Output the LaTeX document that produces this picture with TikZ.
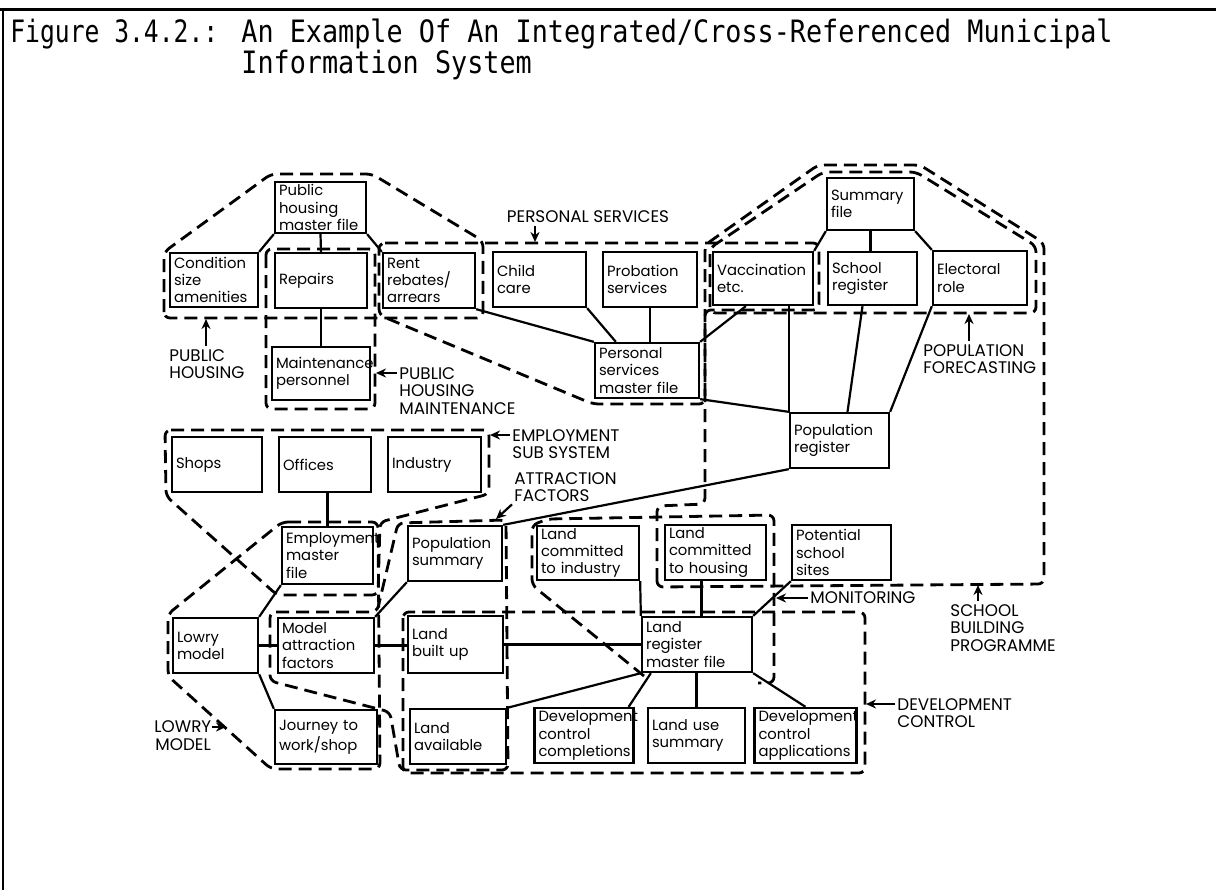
\documentclass[tikz,border=0pt]{standalone}
\usepackage{fontspec}
\usepackage{graphicx}
\usetikzlibrary{arrows.meta}
\newfontfamily\lblfont{Poppins}
\newfontfamily\capfont{DejaVu Sans Mono}

\tikzset{
  box/.style={draw, line width=1.15pt, inner xsep=2pt, inner ysep=0pt, align=left,
    font=\lblfont\fontsize{7.4}{8.6}\selectfont},
  bx/.style n args={3}{minimum width=#1pt, minimum height=#2pt, text width=#3pt},
  grp/.style={draw, line width=1.4pt, dash pattern=on 6.5pt off 3.5pt, rounded corners=3pt},
  link/.style={draw, line width=1.1pt},
  tag/.style={font=\lblfont\fontsize{8.4}{8.8}\selectfont, align=left, inner sep=0pt},
  tagarrow/.style={line width=1.1pt, -{Stealth[length=5pt,width=4.5pt]}},
  figtitle/.style={font=\capfont\fontsize{13.4}{15}\selectfont, inner sep=0pt},
}

\begin{document}
\begin{tikzpicture}[x=0.5pt,y=-0.5pt]
\useasboundingbox (0,0) rectangle (1216,890);
\fill[white] (0,0) rectangle (1216,890);

% page frame
\draw[line width=1.5pt] (0,9) -- (1216,9);
\draw[line width=1pt] (3,9) -- (3,890);

% caption
\node[figtitle, anchor=base west] (fignum) at (10,42) {\scalebox{0.92}[1.15]{Figure 3.4.2.:}};
\node[figtitle, anchor=base west] (figline1) at (241,42) {\scalebox{1}[1.15]{An Example Of An Integrated/Cross-Referenced Municipal}};
\node[figtitle, anchor=base west] (figline2) at (241,73) {\scalebox{1}[1.15]{Information System}};

% ---------- record boxes ----------
\node[box, bx={45.5}{25.5}{41.5}] (phm) at (320.5,207.5) {Public\\housing\\master~file};
\node[box, bx={44}{27}{40}] (cond) at (214,280) {Condition\\size\\amenities};
\node[box, bx={46}{27.5}{42}] (repairs) at (321,280.5) {Repairs};
\node[box, bx={46}{27.5}{42}] (rent) at (429,280.5) {Rent\\rebates/\\arrears};
\node[box, bx={46.5}{27.5}{42.5}] (child) at (539.5,279.5) {Child\\care};
\node[box, bx={47}{27.5}{43}] (prob) at (650,279.5) {Probation\\services};
\node[box, bx={50}{26.5}{46}] (vacc) at (763,278.5) {Vaccination\\etc.};
\node[box, bx={44.5}{26.5}{40.5}] (school) at (872.5,278.5) {School\\register};
\node[box, bx={47}{27}{43}] (elect) at (980,278) {Electoral\\role};
\node[box, bx={43.5}{26}{39.5}] (summ) at (870.5,204) {Summary\\file};
\node[box, bx={49}{26.5}{45}] (maint) at (321,373.5) {Maintenance\\personnel};
\node[box, bx={52}{27.5}{48}] (psm) at (647,370.5) {Personal\\services\\master~file};
\node[box, bx={49.5}{27.5}{45.5}] (popreg) at (839.5,440.5) {Population\\register};
\node[box, bx={45}{27.5}{41}] (shops) at (217,464.5) {Shops};
\node[box, bx={46}{27.5}{42}] (offices) at (325,464.5) {Offices};
\node[box, bx={46.5}{27.5}{42.5}] (industry) at (434.5,464.5) {Industry};
\node[box, bx={45.5}{28.5}{41.5}] (empmf) at (327.5,555.5) {Employment\\master\\file};
\node[box, bx={47}{27.5}{43}] (popsum) at (455,553.5) {Population\\summary};
\node[box, bx={51}{27}{47}] (lcind) at (588,553) {Land\\committed\\to~industry};
\node[box, bx={50.5}{27.5}{46.5}] (lchous) at (715.5,552.5) {Land\\committed\\to~housing};
\node[box, bx={49.5}{27.5}{45.5}] (pss) at (841.5,552.5) {Potential\\school\\sites};
\node[box, bx={42.5}{27.5}{38.5}] (lowry) at (215.5,645.5) {Lowry\\model};
\node[box, bx={48}{27.5}{44}] (maf) at (326,645.5) {Model\\attraction\\factors};
\node[box, bx={47.5}{28.5}{43.5}] (lbu) at (455.5,644.5) {Land\\built~up};
\node[box, bx={55}{27.5}{51}] (lrm) at (697,644.5) {Land\\register\\master~file};
\node[box, bx={51}{27}{47}] (journey) at (326,737) {Journey~to\\work/shop};
\node[box, bx={48}{27.5}{44}] (lavail) at (458,736.5) {Land\\available};
\node[box, bx={49.5}{27.5}{45.5}] (dcc) at (584,735.5) {Development\\control\\completions};
\node[box, bx={48.5}{27.5}{44.5}] (lus) at (696.5,735.5) {Land~use\\summary};
\node[box, bx={51}{27.5}{47}] (dca) at (805.5,735.5) {Development\\control\\applications};

% ---------- links between records ----------
\draw[link] (phm.south west) -- (cond.north east);
\draw[link] (phm.south) -- (repairs.north);
\draw[link] (phm.south east) -- (rent.north west);
\draw[link] (repairs.south) -- (maint.north);
\draw[link] (summ.south west) -- (vacc.north east);
\draw[link] (summ.south) -- (summ.south |- school.north);
\draw[link] (summ.south east) -- (elect.north west);
\draw[link] (rent.south east) -- (psm.north west);
\draw[link] (child.south east) -- ([xshift=11pt]psm.north west);
\draw[link] (prob.south) -- (prob.south |- psm.north);
\draw[link] ([xshift=17pt]vacc.south west) -- (psm.north east);
\draw[link] ([xshift=38.5pt]vacc.south west) -- (popreg.north west);
\draw[link] ([xshift=-5pt]school.south) -- ([xshift=4pt]popreg.north);
\draw[link] (elect.south west) -- (popreg.north east);
\draw[link] (psm.south east) -- (popreg.north west);
\draw[link] (popreg.south west) -- (popsum.north east);
\draw[link] (empmf.north) -- (empmf.north |- offices.south);
\draw[link] (empmf.south west) -- (lowry.north east);
\draw[link] (popsum.south west) -- (maf.north east);
\draw[link] (lowry.east) -- (lowry.east -| maf.west);
\draw[link] (maf.east) -- (maf.east -| lbu.west);
\draw[link] (lbu.east) -- (lbu.east -| lrm.west);
\draw[link] (lcind.south east) -- (lrm.north west);
\draw[link] ([xshift=-7pt]lchous.south) -- ([xshift=-7pt]lchous.south |- lrm.north);
\draw[link] (pss.south west) -- (lrm.north east);
\draw[link] (lowry.south east) -- (journey.north west);
\draw[link] (lrm.south west) -- (lavail.north east);
\draw[link] ([xshift=5pt]lrm.south west) -- ([xshift=-3pt]dcc.north east);
\draw[link] (lus.north) -- (lus.north |- lrm.south);
\draw[link] (lrm.south east) -- (dca.north);

% ---------- sub-system outlines ----------
% public housing
\draw[grp] (164,318) -- (164,252) -- (271,174) -- (372,174) -- (483,241) -- (483,318) -- cycle;
% public housing maintenance
\draw[grp] (266,249) rectangle (375,409);
% personal services
\draw[grp] (379,243) -- (819,243) -- (819,310) -- (705,310) -- (705,404) -- (593,404) -- (379,315) -- cycle;
% population forecasting
\draw[grp] (710,313) -- (710,248) -- (823,172) -- (916,172) -- (1036,246) -- (1036,313) -- cycle;
% school building programme
\draw[grp] (657,587) -- (657,506) -- (705,504) -- (705,245) -- (818,165) -- (920,165) -- (1044,243) -- (1044,584) -- cycle;
% monitoring
\draw[grp] (644,676) -- (532,585) -- (532,525) -- (548,519) -- (774,515) -- (774,683) -- (758,683);
% employment sub system
\draw[grp] (165,430) -- (489,430) -- (489,494) -- (380,522) -- (378,595) -- (277,595) -- (166,496) -- cycle;
% Lowry model
\draw[grp] (282,522) -- (378,522) -- (380,769) -- (271,769) -- (168,676) -- (168,614) -- cycle;
% attraction factors
\draw[grp] (270,612) -- (377,612) -- (398,523) -- (506,520) -- (508,770) -- (400,770) -- (390,712) -- (270,681) -- cycle;
% development control
\draw[grp] (403,612) rectangle (865,773);

% ---------- sub-system labels ----------
\node[tag, anchor=center] (pslab) at (588,217) {PERSONAL SERVICES};
\coordinate (pstip) at (535,242);
\draw[tagarrow] ([yshift=-1.5pt]pslab.south -| pstip) -- (pstip);

\node[tag, anchor=north west] (phlab) at (169,349) {PUBLIC\\HOUSING};
\coordinate (phtip) at (206,319);
\draw[tagarrow] ([yshift=1.5pt]phlab.north -| phtip) -- (phtip);

\node[tag, anchor=north west] (phmlab) at (399,367) {PUBLIC\\HOUSING\\MAINTENANCE};
\coordinate (phmtip) at (376,373);
\draw[tagarrow] ([xshift=-1pt]phmlab.west |- phmtip) -- (phmtip);

\node[tag, anchor=north west] (emplab) at (512,429) {EMPLOYMENT\\SUB SYSTEM};
\coordinate (emptip) at (490,435);
\draw[tagarrow] ([xshift=-1pt]emplab.west |- emptip) -- (emptip);

\node[tag, anchor=north west] (aflab) at (514,472) {ATTRACTION\\FACTORS};
\coordinate (aftip) at (496,519);
\draw[tagarrow] ([xshift=-1pt,yshift=-1pt]aflab.south west) -- (aftip);

\node[tag, anchor=north west] (pflab) at (923,344) {POPULATION\\FORECASTING};
\coordinate (pftip) at (969,314);
\draw[tagarrow] ([yshift=1.5pt]pflab.north -| pftip) -- (pftip);

\node[tag, anchor=west] (monlab) at (810,598) {MONITORING};
\coordinate (montip) at (776,598);
\draw[tagarrow] ([xshift=-1pt]monlab.west) -- (montip);

\node[tag, anchor=north west] (sbplab) at (950,604) {SCHOOL\\BUILDING\\PROGRAMME};
\coordinate (sbptip) at (978,585);
\draw[tagarrow] ([yshift=1.5pt]sbplab.north -| sbptip) -- (sbptip);

\node[tag, anchor=north west] (dclab) at (897,698) {DEVELOPMENT\\CONTROL};
\coordinate (dctip) at (866,704);
\draw[tagarrow] ([xshift=-1pt]dclab.west |- dctip) -- (dctip);

\node[tag, anchor=west] (lowlab) at (154,727) {LOWRY};
\node[tag, anchor=west] (lowlab2) at (155,745) {MODEL};
\coordinate (lowtip) at (226,727);
\draw[tagarrow] (lowlab.east) -- (lowtip);
\end{tikzpicture}
\end{document}
